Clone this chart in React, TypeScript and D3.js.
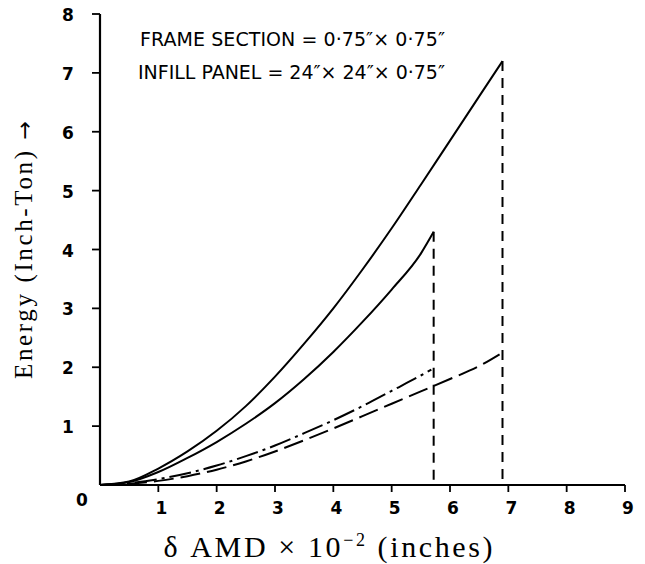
import * as d3 from "d3";
import { useEffect, useRef } from "react";

const W = 645;
const H = 564;

const margin = { top: 14, left: 100, right: 20, bottom: 79 };

const xTicks = [1, 2, 3, 4, 5, 6, 7, 8, 9];
const yTicks = [1, 2, 3, 4, 5, 6, 7, 8];

// δ AMD (×10^-2 in) vs Energy (inch-ton)
const upperSolidX = [0, 0.5, 1, 1.5, 2, 2.5, 3, 3.5, 4, 4.5, 5, 5.5, 6, 6.5, 6.9];
const upperSolidY = [0, 0.06, 0.28, 0.57, 0.92, 1.34, 1.84, 2.4, 3.0, 3.66, 4.36, 5.1, 5.85, 6.6, 7.2];

const lowerSolidX = [0, 0.5, 1, 1.5, 2, 2.5, 3, 3.5, 4, 4.5, 5, 5.5, 5.72];
const lowerSolidY = [0, 0.05, 0.22, 0.46, 0.73, 1.04, 1.39, 1.8, 2.26, 2.77, 3.32, 3.93, 4.3];

const dashDotX = [0, 0.5, 1, 1.5, 2, 2.5, 3, 3.5, 4, 4.5, 5, 5.5, 5.68];
const dashDotY = [0, 0.03, 0.1, 0.2, 0.33, 0.49, 0.67, 0.88, 1.1, 1.34, 1.6, 1.86, 1.96];

const longDashX = [0, 0.5, 1, 1.5, 2, 2.5, 3, 3.5, 4, 4.5, 5, 5.5, 6, 6.5, 6.85];
const longDashY = [0, 0.02, 0.07, 0.15, 0.26, 0.4, 0.57, 0.76, 0.96, 1.17, 1.38, 1.59, 1.8, 2.02, 2.22];

// failure drops (dashed verticals)
const dropX = [5.72, 6.9];
const dropY = [4.3, 7.2];

const curves = [
	{ xs: upperSolidX, ys: upperSolidY, dash: null },
	{ xs: lowerSolidX, ys: lowerSolidY, dash: null },
	{ xs: dashDotX, ys: dashDotY, dash: "22,5,3,5" },
	{ xs: longDashX, ys: longDashY, dash: "20,7" }
];

const App = () => {
	const ref = useRef<SVGSVGElement>(null);

	useEffect(() => {
		const svg = d3.select(ref.current);
		svg.selectAll("*").remove();

		const x = d3.scaleLinear().domain([0, 9]).range([margin.left, W - margin.right]);
		const y = d3.scaleLinear().domain([0, 8]).range([H - margin.bottom, margin.top]);

		const g = svg.append("g");
		const tickFont = "'DejaVu Sans', sans-serif";
		const serif = "'Liberation Serif', 'Times New Roman', serif";

		// axes
		g.append("line")
			.attr("x1", x(0)).attr("x2", x(0))
			.attr("y1", y(0)).attr("y2", y(8))
			.attr("stroke", "#000").attr("stroke-width", 2.2);
		g.append("line")
			.attr("x1", x(0)).attr("x2", x(9))
			.attr("y1", y(0)).attr("y2", y(0))
			.attr("stroke", "#000").attr("stroke-width", 2.2);

		g.selectAll(".xt")
			.data(xTicks)
			.enter()
			.append("line")
			.attr("x1", d => x(d)).attr("x2", d => x(d))
			.attr("y1", y(0)).attr("y2", y(0) + 7)
			.attr("stroke", "#000").attr("stroke-width", 1.8);

		g.selectAll(".xl")
			.data([0, ...xTicks])
			.enter()
			.append("text")
			.attr("x", d => (d === 0 ? x(0) - 18 : x(d) + 3))
			.attr("y", d => (d === 0 ? y(0) + 21 : y(0) + 29))
			.attr("text-anchor", "middle")
			.style("font-family", tickFont)
			.style("font-weight", "bold")
			.style("font-size", "17px")
			.text(d => d);

		g.selectAll(".yt")
			.data(yTicks)
			.enter()
			.append("line")
			.attr("x1", x(0) - 8).attr("x2", x(0))
			.attr("y1", d => y(d)).attr("y2", d => y(d))
			.attr("stroke", "#000").attr("stroke-width", 1.8);

		g.selectAll(".yl")
			.data(yTicks)
			.enter()
			.append("text")
			.attr("x", x(0) - 32)
			.attr("y", d => y(d) + 7)
			.attr("text-anchor", "middle")
			.style("font-family", tickFont)
			.style("font-weight", "bold")
			.style("font-size", "17px")
			.text(d => d);

		// curves
		const line = d3.line<[number, number]>()
			.x(d => x(d[0]))
			.y(d => y(d[1]))
			.curve(d3.curveMonotoneX);

		curves.forEach(c => {
			const pts = c.xs.map((v, i) => [v, c.ys[i]] as [number, number]);
			g.append("path")
				.attr("d", line(pts))
				.attr("fill", "none")
				.attr("stroke", "#000")
				.attr("stroke-width", 2)
				.attr("stroke-dasharray", c.dash);
		});

		g.selectAll(".drop")
			.data(dropX)
			.enter()
			.append("line")
			.attr("x1", d => x(d)).attr("x2", d => x(d))
			.attr("y1", (d, i) => y(dropY[i])).attr("y2", y(0))
			.attr("stroke", "#000")
			.attr("stroke-width", 2)
			.attr("stroke-dasharray", "10,7");

		// annotation
		const note = g.append("g")
			.style("font-family", "'DejaVu Sans', sans-serif")
			.style("font-size", "19px");
		note.append("text")
			.attr("x", 140).attr("y", 46)
			.attr("textLength", 305).attr("lengthAdjust", "spacing")
			.text("FRAME SECTION = 0·75″× 0·75″");
		note.append("text")
			.attr("x", 138).attr("y", 79)
			.attr("textLength", 307).attr("lengthAdjust", "spacing")
			.text("INFILL PANEL = 24″× 24″× 0·75″");

		// axis titles
		const yt = g.append("text")
			.attr("transform", `translate(32, 250) rotate(-90)`)
			.attr("text-anchor", "middle")
			.attr("textLength", 258).attr("lengthAdjust", "spacing")
			.style("font-family", serif)
			.style("font-size", "25px");
		yt.append("tspan").text("Energy  (Inch-Ton) ");
		yt.append("tspan").style("font-family", "'DejaVu Sans', sans-serif").style("font-size", "22px").text("→");

		const xt = g.append("text")
			.attr("x", 328)
			.attr("y", 557)
			.attr("text-anchor", "middle")
			.attr("textLength", 329).attr("lengthAdjust", "spacing")
			.style("font-family", serif)
			.style("font-size", "30px");
		xt.append("tspan").text("δ AMD × 10");
		xt.append("tspan").attr("dy", -11).style("font-size", "18px").text("−2");
		xt.append("tspan").attr("dy", 11).text(" (inches)");
	}, []);

	return (
		<svg
			ref={ref}
			width={W}
			height={H}
			style={{ position: "absolute", left: 0, top: 0, background: "#fff" }}
		/>
	);
};

export default App;
